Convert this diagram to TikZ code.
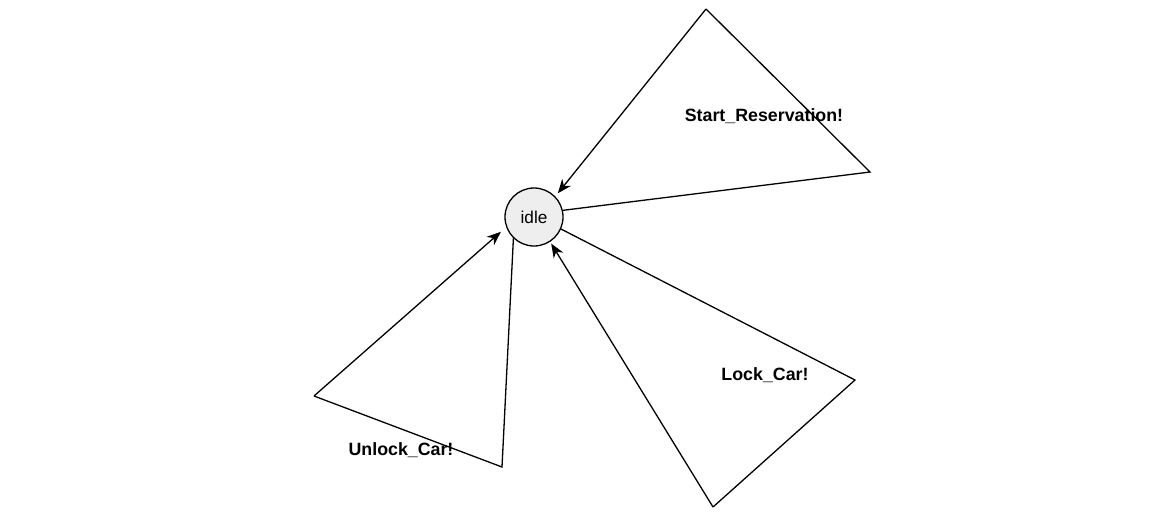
\documentclass[tikz,border=0pt]{standalone}
\usepackage{fontspec}
\setmainfont{Liberation Sans}
\usepackage{tikz}
\usetikzlibrary{arrows.meta}

\definecolor{statefill}{RGB}{238,238,238}

\begin{document}
\begin{tikzpicture}[x=0.5pt,y=-0.5pt,line width=0.65pt,
		state/.style={circle,draw,fill=statefill,minimum size=29pt,inner sep=0pt,font=\fontsize{8.6}{10}\selectfont},
		lbl/.style={font=\fontsize{8.9}{10}\selectfont\bfseries},
		tip/.style={-{Stealth[length=7pt,width=5.6pt,inset=2.2pt]}}]
		\useasboundingbox (0,0) rectangle (1172,515);
		
		\node[state] (idle) at (534, 217) {idle};
		
		% Start_Reservation loop
		\coordinate (sr1) at (870, 172);
		\coordinate (sr2) at (706, 9);
		\draw (idle.13) -- (sr1) -- (sr2);
		\draw[tip,shorten >=2pt] (sr2) -- (idle.44);
		\node[lbl] (srl) at (764, 116) {Start\_Reservation!};
		
		% Lock_Car loop
		\coordinate (lc1) at (855, 380);
		\coordinate (lc2) at (713, 507);
		\draw (idle.-24) -- (lc1) -- (lc2);
		\draw[tip,shorten >=1pt] (lc2) -- (idle.-57);
		\node[lbl] (lcl) at (765, 375) {Lock\_Car!};
		
		% Unlock_Car loop
		\coordinate (ul1) at (502, 467);
		\coordinate (ul2) at (314, 396);
		\draw (idle.-134) -- (ul1) -- (ul2);
		\draw[tip,shorten >=3.5pt] (ul2) -- (idle.-160);
		\node[lbl] (ull) at (401, 450) {Unlock\_Car!};
	\end{tikzpicture}
\end{document}
